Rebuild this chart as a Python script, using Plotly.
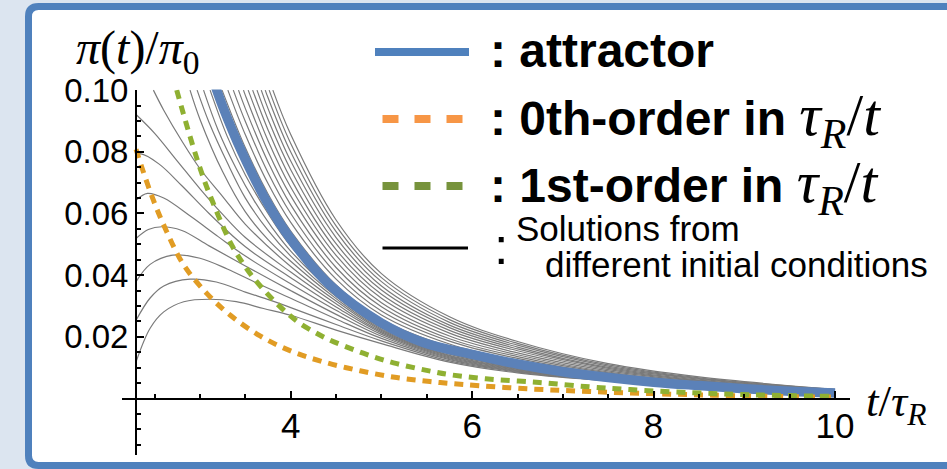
import plotly.graph_objects as go

# ---------------------------------------------------------------------------
# Data: pi(t)/pi0 versus t/tau_R
# ---------------------------------------------------------------------------
ATTR_T = [3.17, 3.25, 3.46, 3.75, 4.0, 4.43, 5.0, 5.46, 6.0, 6.5, 7.0, 7.5, 8.0, 8.5, 9.0, 9.5, 10.0]
ATTR_V = [0.1012, 0.0947, 0.0800, 0.0631, 0.0517, 0.0368, 0.0245, 0.0182, 0.0143, 0.0112,
          0.0087, 0.0068, 0.0053, 0.0042, 0.0032, 0.0024, 0.0018]

ORDER0_T = [2.295, 2.357, 2.486, 2.633, 2.816, 3.074, 3.331, 3.662, 4.011, 4.36, 4.764,
            5.168, 5.535, 5.92, 6.65, 7.29, 7.97, 8.65, 9.56, 10.0]
ORDER0_V = [0.0808, 0.0751, 0.0643, 0.0541, 0.0435, 0.0341, 0.0271, 0.0203, 0.0153, 0.0119,
            0.0090, 0.0068, 0.0055, 0.0045, 0.0031, 0.0023, 0.0016, 0.0011, 0.0006, 0.0005]

ORDER1_T = [2.743, 2.82, 2.90, 2.98, 3.06, 3.15, 3.26, 3.35, 3.44, 3.55, 3.68, 3.81, 3.96,
            4.10, 4.29, 4.43, 4.62, 4.80, 4.98, 5.17, 5.39, 5.57, 5.74, 6.15, 6.74, 7.29,
            7.74, 8.42, 9.1, 10.0]
ORDER1_V = [0.1000, 0.0920, 0.0840, 0.0765, 0.0697, 0.0630, 0.0553, 0.0497, 0.0453, 0.0406,
            0.0360, 0.0319, 0.0277, 0.0244, 0.0211, 0.0190, 0.0167, 0.0147, 0.0129, 0.0113,
            0.0098, 0.0087, 0.0078, 0.0064, 0.0052, 0.0038, 0.0029, 0.0019, 0.0012, 0.0007]

# Solutions started at the left edge, rising or falling towards the attractor
SOL_01 = ([2.295, 2.45, 2.6, 2.82, 3.11, 3.4, 3.7, 4.0, 4.5, 5.0, 5.75, 6.5, 7.5, 8.5, 10.0],
          [0.0119, 0.0228, 0.0281, 0.0314, 0.0322, 0.0314, 0.0292, 0.0270, 0.0222, 0.0178,
           0.0118, 0.0083, 0.0057, 0.0037, 0.0016])
SOL_02 = ([2.295, 2.45, 2.6, 2.89, 3.18, 3.5, 3.77, 4.0, 4.5, 5.0, 5.75, 6.5, 7.5, 8.5, 10.0],
          [0.0254, 0.0326, 0.0365, 0.0387, 0.0378, 0.0345, 0.0319, 0.0295, 0.0240, 0.0187,
           0.0122, 0.0086, 0.0058, 0.0037, 0.0016])
SOL_03 = ([2.295, 2.45, 2.7, 3.0, 3.3, 3.6, 4.0, 4.5, 5.0, 5.75, 6.5, 7.5, 8.5, 10.0],
          [0.0379, 0.0435, 0.0465, 0.0455, 0.0420, 0.0378, 0.0325, 0.0258, 0.0195, 0.0126,
           0.0088, 0.0059, 0.0038, 0.0017])
SOL_04 = ([2.295, 2.43, 2.58, 2.8, 3.1, 3.5, 4.0, 4.5, 5.0, 5.75, 6.5, 7.5, 8.5, 10.0],
          [0.0519, 0.0548, 0.0557, 0.0545, 0.0495, 0.0430, 0.0350, 0.0273, 0.0202, 0.0129,
           0.0090, 0.0060, 0.0038, 0.0017])
SOL_05 = ([2.295, 2.42, 2.6, 2.9, 3.2, 3.5, 4.0, 4.5, 5.0, 5.75, 6.5, 7.5, 8.5, 10.0],
          [0.0643, 0.0665, 0.0650, 0.0590, 0.0525, 0.0462, 0.0372, 0.0286, 0.0208, 0.0132,
           0.0092, 0.0061, 0.0039, 0.0017])
SOL_06 = ([2.295, 2.35, 2.55, 2.8, 3.1, 3.5, 4.0, 4.5, 5.0, 5.75, 6.5, 7.5, 8.5, 10.0],
          [0.0789, 0.0793, 0.0760, 0.0690, 0.0600, 0.0492, 0.0392, 0.0297, 0.0213, 0.0135,
           0.0094, 0.0062, 0.0039, 0.0017])
SOL_07 = ([2.295, 2.5, 2.75, 3.0, 3.25, 3.5, 4.0, 4.5, 5.0, 5.75, 6.5, 7.5, 8.5, 10.0],
          [0.0921, 0.0860, 0.0770, 0.0680, 0.0597, 0.0522, 0.0410, 0.0307, 0.0217, 0.0138,
           0.0096, 0.0063, 0.0040, 0.0018])
SOL_08 = ([2.486, 2.6, 2.8, 3.0, 3.25, 3.5, 4.0, 4.5, 5.0, 5.75, 6.5, 7.5, 8.5, 10.0],
          [0.1000, 0.0935, 0.0835, 0.0745, 0.0655, 0.0565, 0.0428, 0.0316, 0.0221, 0.0140,
           0.0098, 0.0063, 0.0040, 0.0018])
SOL_09 = ([2.890, 3.0, 3.25, 3.5, 3.75, 4.0, 4.5, 5.0, 5.75, 6.5, 7.5, 8.5, 10.0],
          [0.1000, 0.0905, 0.0735, 0.0605, 0.0515, 0.0445, 0.0324, 0.0225, 0.0144, 0.0100,
           0.0064, 0.0040, 0.0018])
SOL_10 = ([2.968, 3.1, 3.3, 3.5, 3.75, 4.0, 4.5, 5.0, 5.75, 6.5, 7.5, 8.5, 10.0],
          [0.1000, 0.0895, 0.0765, 0.0650, 0.0545, 0.0462, 0.0331, 0.0229, 0.0147, 0.0102,
           0.0065, 0.0041, 0.0018])
SOL_11 = ([3.039, 3.2, 3.4, 3.6, 3.8, 4.0, 4.5, 5.0, 5.75, 6.5, 7.5, 8.5, 10.0],
          [0.1000, 0.0870, 0.0745, 0.0640, 0.0552, 0.0478, 0.0337, 0.0233, 0.0150, 0.0104,
           0.0066, 0.0041, 0.0018])
SOL_12 = ([3.111, 3.3, 3.5, 3.75, 4.0, 4.5, 5.0, 5.75, 6.5, 7.5, 8.5, 10.0],
          [0.1000, 0.0850, 0.0725, 0.0600, 0.0494, 0.0343, 0.0237, 0.0153, 0.0106, 0.0066,
           0.0041, 0.0018])

# Solutions lying above the attractor
SOL_13 = ([3.243, 3.5, 3.75, 4.0, 4.5, 5.0, 5.75, 6.5, 7.5, 8.5, 10.0],
          [0.1000, 0.0813, 0.0663, 0.0543, 0.0368, 0.0257, 0.0168, 0.0118, 0.0071, 0.0044, 0.0019])
SOL_14 = ([3.307, 3.5, 3.75, 4.0, 4.5, 5.0, 5.75, 6.5, 7.5, 8.5, 10.0],
          [0.1000, 0.0855, 0.0697, 0.0571, 0.0387, 0.0271, 0.0177, 0.0124, 0.0075, 0.0046, 0.0020])
SOL_15 = ([3.367, 3.5, 3.75, 4.0, 4.5, 5.0, 5.75, 6.5, 7.5, 8.5, 10.0],
          [0.1000, 0.0898, 0.0732, 0.0600, 0.0406, 0.0284, 0.0186, 0.0130, 0.0079, 0.0049, 0.0021])
SOL_16 = ([3.424, 3.5, 3.75, 4.0, 4.5, 5.0, 5.75, 6.5, 7.5, 8.5, 10.0],
          [0.1000, 0.0940, 0.0767, 0.0628, 0.0425, 0.0298, 0.0194, 0.0136, 0.0083, 0.0051, 0.0022])
SOL_17 = ([3.479, 3.5, 3.75, 4.0, 4.5, 5.0, 5.75, 6.5, 7.5, 8.5, 10.0],
          [0.1000, 0.0983, 0.0801, 0.0657, 0.0445, 0.0311, 0.0203, 0.0142, 0.0086, 0.0053, 0.0023])
SOL_18 = ([3.531, 3.75, 4.0, 4.5, 5.0, 5.75, 6.5, 7.5, 8.5, 10.0],
          [0.1000, 0.0836, 0.0685, 0.0464, 0.0325, 0.0212, 0.0148, 0.0090, 0.0056, 0.0024])
SOL_19 = ([3.580, 3.75, 4.0, 4.5, 5.0, 5.75, 6.5, 7.5, 8.5, 10.0],
          [0.1000, 0.0871, 0.0713, 0.0483, 0.0338, 0.0221, 0.0155, 0.0094, 0.0058, 0.0025])
SOL_20 = ([3.628, 3.75, 4.0, 4.5, 5.0, 5.75, 6.5, 7.5, 8.5, 10.0],
          [0.1000, 0.0905, 0.0742, 0.0502, 0.0352, 0.0230, 0.0161, 0.0098, 0.0060, 0.0026])
SOL_21 = ([3.675, 3.75, 4.0, 4.5, 5.0, 5.75, 6.5, 7.5, 8.5, 10.0],
          [0.1000, 0.0940, 0.0770, 0.0522, 0.0365, 0.0238, 0.0167, 0.0101, 0.0063, 0.0027])
SOL_22 = ([3.719, 3.75, 4.0, 4.5, 5.0, 5.75, 6.5, 7.5, 8.5, 10.0],
          [0.1000, 0.0975, 0.0799, 0.0541, 0.0379, 0.0247, 0.0173, 0.0105, 0.0065, 0.0028])
SOL_23 = ([3.762, 4.0, 4.5, 5.0, 5.75, 6.5, 7.5, 8.5, 10.0],
          [0.1000, 0.0827, 0.0560, 0.0392, 0.0256, 0.0179, 0.0109, 0.0067, 0.0029])
SOL_24 = ([3.803, 4.0, 4.5, 5.0, 5.75, 6.5, 7.5, 8.5, 10.0],
          [0.1000, 0.0856, 0.0579, 0.0405, 0.0265, 0.0185, 0.0113, 0.0070, 0.0030])

SOLUTIONS = [SOL_01, SOL_02, SOL_03, SOL_04, SOL_05, SOL_06, SOL_07, SOL_08, SOL_09, SOL_10,
             SOL_11, SOL_12, SOL_13, SOL_14, SOL_15, SOL_16, SOL_17, SOL_18, SOL_19, SOL_20,
             SOL_21, SOL_22, SOL_23, SOL_24]

X_TICKS = [4, 6, 8, 10]
X_MINOR = [2.5, 3, 3.5, 4.5, 5, 5.5, 6.5, 7, 7.5, 8.5, 9, 9.5]
Y_TICKS = [0.02, 0.04, 0.06, 0.08, 0.10]
Y_TICK_TEXT = ["0.02", "0.04", "0.06", "0.08", "0.10"]
Y_MINOR = [-0.015, -0.01, -0.005, 0.005, 0.01, 0.015, 0.025, 0.03, 0.035, 0.045, 0.05,
           0.055, 0.065, 0.07, 0.075, 0.085, 0.09, 0.095]

T_START = 2.295          # left edge of the solutions, where the vertical axis sits
X_RANGE = [2.14, 10.165]
Y_RANGE = [-0.0183, 0.1002]

# ---------------------------------------------------------------------------
# Geometry helpers (figure pixels -> paper coordinates, margins are zero)
# ---------------------------------------------------------------------------
W, H = 947, 469
X_DOMAIN = [122 / W, 850 / W]
Y_DOMAIN = [1 - 455 / H, 1 - 89.5 / H]


def px(x):
    return x / W


def py(y):
    return 1 - y / H


x_axis_pos = Y_DOMAIN[0] + (0 - Y_RANGE[0]) / (Y_RANGE[1] - Y_RANGE[0]) * (Y_DOMAIN[1] - Y_DOMAIN[0])
y_axis_pos = X_DOMAIN[0] + (T_START - X_RANGE[0]) / (X_RANGE[1] - X_RANGE[0]) * (X_DOMAIN[1] - X_DOMAIN[0])

BLUE = "#5B81B8"
ORANGE = "#E19C24"
GREEN = "#8FB032"
GRAY = "#7A7A7A"
FRAME = "#4F81BD"

fig = go.Figure()

for t_vals, v_vals in SOLUTIONS:
    fig.add_trace(go.Scatter(x=t_vals, y=v_vals, mode="lines",
                             line=dict(color=GRAY, width=1.2, shape="spline", smoothing=1),
                             hoverinfo="skip"))

fig.add_trace(go.Scatter(x=ATTR_T, y=ATTR_V, mode="lines",
                         line=dict(color=BLUE, width=9.5, shape="spline", smoothing=1)))
fig.add_trace(go.Scatter(x=ORDER0_T, y=ORDER0_V, mode="lines",
                         line=dict(color=ORANGE, width=5, dash="9px,7px", shape="spline", smoothing=1)))
fig.add_trace(go.Scatter(x=ORDER1_T, y=ORDER1_V, mode="lines",
                         line=dict(color=GREEN, width=5, dash="9px,7px", shape="spline", smoothing=1)))

# ---------------------------------------------------------------------------
# Frame and legend drawings
# ---------------------------------------------------------------------------
xl, yt, yb, xr, r = 28.5, 6.5, 465.5, 965, 10
frame_path = (
    f"M {px(xl + r)},{py(yt)} L {px(xr)},{py(yt)} L {px(xr)},{py(yb)} L {px(xl + r)},{py(yb)} "
    f"Q {px(xl)},{py(yb)} {px(xl)},{py(yb - r)} L {px(xl)},{py(yt + r)} "
    f"Q {px(xl)},{py(yt)} {px(xl + r)},{py(yt)} Z"
)
shapes = [
    dict(type="path", path=frame_path, xref="paper", yref="paper", layer="below",
         fillcolor="white", line=dict(color=FRAME, width=7)),
    dict(type="line", xref="paper", yref="paper", x0=px(375), x1=px(469), y0=py(52), y1=py(52),
         line=dict(color="#4F81BD", width=8)),
    dict(type="line", xref="paper", yref="paper", x0=px(382.5), x1=px(463.5), y0=py(119), y1=py(119),
         line=dict(color="#F79646", width=8, dash="16px,16px")),
    dict(type="line", xref="paper", yref="paper", x0=px(382.5), x1=px(463.5), y0=py(186), y1=py(186),
         line=dict(color="#77933C", width=8, dash="16px,16px")),
    dict(type="line", xref="paper", yref="paper", x0=px(382.5), x1=px(468), y0=py(248), y1=py(248),
         line=dict(color="black", width=3)),
]

SANS = "Liberation Sans, Arial, sans-serif"
SERIF = "Liberation Serif, Times New Roman, serif"
MATH = "<span style=\"font-family:Liberation Serif;font-size:60px;font-weight:normal\"><i>τ</i><sub><i>R</i></sub>/<i>t</i></span>"

annotations = [
    dict(text="<i>π</i>(<i>t</i>)/<i>π</i><sub>0</sub>", x=px(74), y=py(51), xanchor="left",
         yanchor="middle", font=dict(family=SERIF, size=48, color="black")),
    dict(text="<i>t</i>/<i>τ</i><sub><i>R</i></sub>", x=px(864), y=py(404), xanchor="left",
         yanchor="middle", font=dict(family=SERIF, size=45, color="black")),
    dict(text="<b>: attractor</b>", x=px(488), y=py(50), xanchor="left", yanchor="middle",
         font=dict(family=SANS, size=48, color="black")),
    dict(text="<b>: 0th-order in </b>" + MATH, x=px(488), y=py(119), xanchor="left",
         yanchor="middle", font=dict(family=SANS, size=48, color="black")),
    dict(text="<b>: 1st-order in </b>" + MATH, x=px(488), y=py(186), xanchor="left",
         yanchor="middle", font=dict(family=SANS, size=48, color="black")),
    dict(text=":", x=px(501), y=py(246), xanchor="center", yanchor="middle",
         font=dict(family=SANS, size=52, color="black")),
    dict(text="Solutions from", x=px(514), y=py(228), xanchor="left", yanchor="middle",
         font=dict(family=SANS, size=35, color="black")),
    dict(text="different initial conditions", x=px(543), y=py(264), xanchor="left",
         yanchor="middle", font=dict(family=SANS, size=35, color="black")),
]
for a in annotations:
    a.update(xref="paper", yref="paper", showarrow=False)

axis_common = dict(
    anchor="free", showline=True, linecolor="black", linewidth=2, ticks="inside",
    ticklen=7, tickwidth=1.5, tickcolor="black", showgrid=False, zeroline=False,
    automargin=False, fixedrange=True,
)

fig.update_layout(
    template="none",
    width=W, height=H,
    margin=dict(l=0, r=0, t=0, b=0),
    paper_bgcolor="#DCE5F0",
    plot_bgcolor="rgba(0,0,0,0)",
    showlegend=False,
    shapes=shapes,
    annotations=annotations,
    xaxis=dict(domain=X_DOMAIN, range=X_RANGE, position=x_axis_pos,
               tickmode="array", tickvals=X_TICKS, ticktext=[str(v) for v in X_TICKS],
               tickfont=dict(family=SANS, size=35, color="black"), ticklabelstandoff=-4,
               minor=dict(tickmode="array", tickvals=X_MINOR, ticks="inside", ticklen=4,
                          tickwidth=1.5, tickcolor="black", showgrid=False),
               **axis_common),
    yaxis=dict(domain=Y_DOMAIN, range=Y_RANGE, position=y_axis_pos,
               tickmode="array", tickvals=Y_TICKS, ticktext=Y_TICK_TEXT,
               tickfont=dict(family=SANS, size=33, color="black"), ticklabelstandoff=0,
               minor=dict(tickmode="array", tickvals=Y_MINOR, ticks="inside", ticklen=4,
                          tickwidth=1.5, tickcolor="black", showgrid=False),
               **axis_common),
)

fig.write_html("out.html", config={"displayModeBar": False})
